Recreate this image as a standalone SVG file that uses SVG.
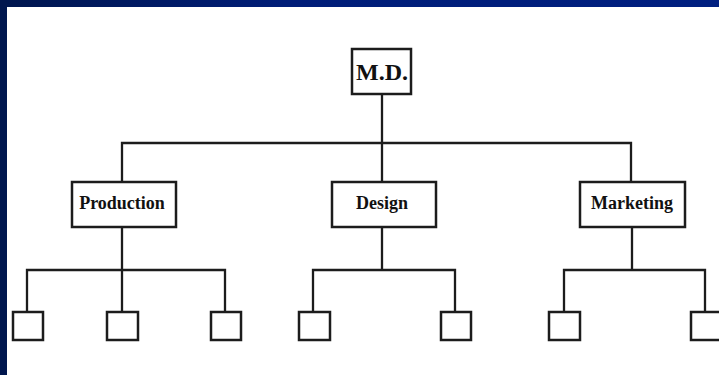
<svg xmlns="http://www.w3.org/2000/svg" width="719" height="375" viewBox="0 0 719 375">
<defs>
<linearGradient id="band" x1="0" y1="0" x2="1" y2="0">
<stop offset="0" stop-color="#00164e"/>
<stop offset="0.4" stop-color="#001d78"/>
<stop offset="1" stop-color="#001f80"/>
</linearGradient>
<style>
.box{fill:#fff;stroke:#1c1c1c;stroke-width:2.5}
.ln{fill:none;stroke:#1c1c1c;stroke-width:2.3}
.lbl{font-family:"Liberation Serif","Times New Roman",serif;font-weight:bold;fill:#111;text-anchor:middle}
</style>
</defs>
<rect x="0" y="0" width="719" height="375" fill="#fff"/>
<rect x="0" y="0" width="719" height="7" fill="url(#band)"/>
<rect x="0" y="0" width="7" height="375" fill="#00164e"/>
<g id="connectors" class="ln">
<path d="M382 94V143M122 182V143H631V182M382 143V182"/>
<path d="M122 227V270M27 312V270H225V312M122 270V312"/>
<path d="M382 227V270M313 312V270H455V312"/>
<path d="M632 227V270M564 312V270H705V312"/>
</g>
<g id="md"><rect class="box" x="352" y="49" width="59" height="45"/><text class="lbl" x="382" y="80" font-size="24">M.D.</text></g>
<g id="production"><rect class="box" x="72" y="182" width="104" height="45"/><text class="lbl" x="122" y="209" font-size="18">Production</text></g>
<g id="design"><rect class="box" x="332" y="182" width="104" height="45"/><text class="lbl" x="382" y="209" font-size="18">Design</text></g>
<g id="marketing"><rect class="box" x="580" y="182" width="105" height="45"/><text class="lbl" x="632" y="209" font-size="18">Marketing</text></g>
<g id="p1"><rect class="box" x="13" y="312" width="30" height="28"/></g>
<g id="p2"><rect class="box" x="107" y="312" width="31" height="28"/></g>
<g id="p3"><rect class="box" x="211" y="312" width="30" height="28"/></g>
<g id="d1"><rect class="box" x="299" y="312" width="31" height="28"/></g>
<g id="d2"><rect class="box" x="441" y="312" width="30" height="28"/></g>
<g id="m1"><rect class="box" x="549" y="312" width="31" height="28"/></g>
<g id="m2"><rect class="box" x="691" y="312" width="31" height="28"/></g>
</svg>
